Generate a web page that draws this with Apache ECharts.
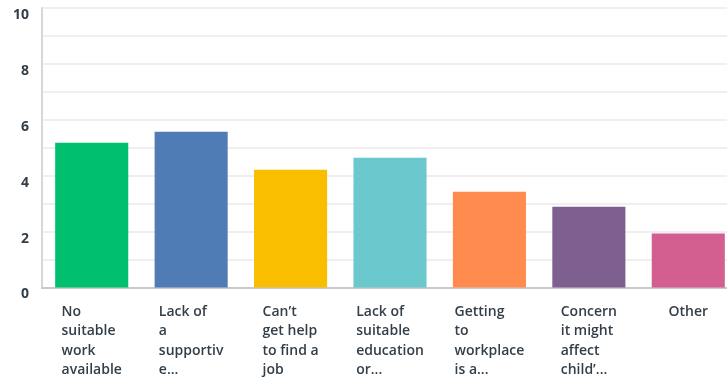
<!DOCTYPE html>
<html>
<head>
<meta charset="utf-8">
<script src="https://cdn.jsdelivr.net/npm/echarts@6/dist/echarts.min.js"></script>
<style>
  html, body { margin: 0; padding: 0; background: #fff; overflow: hidden; }
  /* the plot runs a little past the right edge of the window */
  #chart { width: 738px; height: 380px; }
</style>
</head>
<body>
<div id="chart"></div>
<script>
// Barriers to finding work — average rating per answer choice
const categories = [
  'No\nsuitable\nwork\navailable',
  'Lack of\na\nsupportiv\ne...',
  'Can\u2019t\nget help\nto find a\njob',
  'Lack of\nsuitable\neducation\nor...',
  'Getting\nto\nworkplace\nis a...',
  'Concern\nit might\naffect\nchild\u2019...',
  'Other'
];
const values = [5.18, 5.57, 4.21, 4.64, 3.43, 2.89, 1.93];
const barColors = ['#00bf6f', '#507cb6', '#f9be00', '#6bc8cd', '#ff8b4f', '#7f5f90', '#d25f90'];
const yTicks = [0, 2, 4, 6, 8, 10];

const textColor = '#333e48';
const chart = echarts.init(document.getElementById('chart'), null, { renderer: 'canvas' });

chart.setOption({
  animation: false,
  grid: { left: 42, right: 0, top: 8, bottom: 92.5, containLabel: false },
  xAxis: {
    type: 'category',
    data: categories,
    axisLine: { lineStyle: { color: '#c9c9c9', width: 2 } },
    axisTick: { show: false },
    axisLabel: {
      interval: 0,
      margin: 15,
      align: 'center',
      // block centred under the bar, lines flush left inside it
      formatter: function (v) {
        return v.split('\n').map(function (l) { return '{a|' + l + '}'; }).join('\n');
      },
      rich: {
        a: {
          align: 'left',
          fontFamily: '"Open Sans", sans-serif',
          fontWeight: 600,
          fontSize: 14,
          lineHeight: 19.3,
          color: textColor
        }
      }
    }
  },
  yAxis: {
    type: 'value',
    min: 0,
    max: 10,
    interval: 1,
    axisLine: { show: true, lineStyle: { color: '#d6d6d6', width: 2 } },
    axisTick: { show: false },
    splitLine: { lineStyle: { color: '#efefef', width: 2 } },
    axisLabel: {
      margin: 13,
      verticalAlign: 'top',
      fontFamily: '"Open Sans", sans-serif',
      fontWeight: 'bold',
      fontSize: 14,
      color: textColor,
      formatter: function (v) { return yTicks.indexOf(v) >= 0 ? String(v) : ''; }
    }
  },
  series: [{
    type: 'bar',
    data: values.map(function (v, i) { return { value: v, itemStyle: { color: barColors[i] } }; }),
    barCategoryGap: '26.5%'
  }]
});
</script>
</body>
</html>
